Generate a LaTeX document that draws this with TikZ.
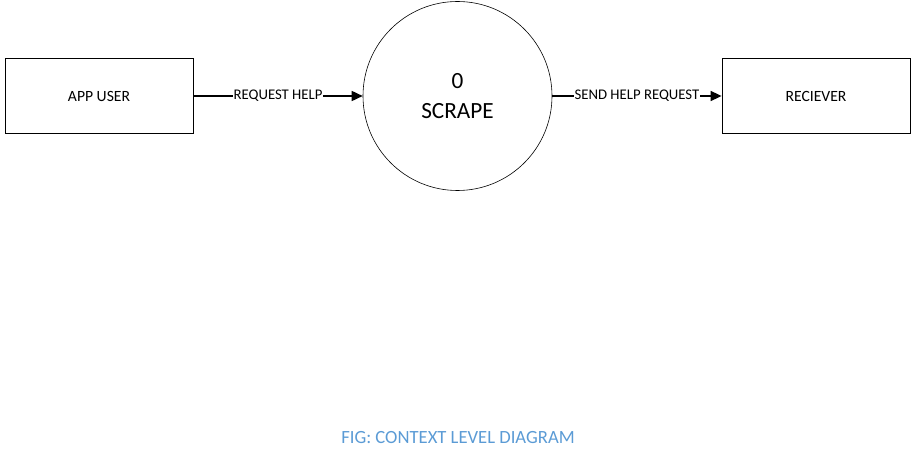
\documentclass[tikz,border=0pt]{standalone}
\usepackage{fontspec}
\setmainfont{Carlito}
\usetikzlibrary{arrows.meta}
\definecolor{capblue}{HTML}{5B9BD5}
\tikzset{
  entity/.style={draw, line width=0.8bp, minimum width=188bp, minimum height=75bp, inner sep=0pt, font=\fontsize{15.7}{18}\selectfont},
  process/.style={draw, circle, line width=0.6bp, minimum size=189bp, inner sep=0pt, align=center, font=\fontsize{23.3}{30}\selectfont},
  flow/.style={line width=1.6bp, -{Triangle[length=11bp,width=10bp]}},
  flowlabel/.style={fill=white, inner sep=0.5bp, font=\fontsize{14.8}{17}\selectfont},
  caption/.style={text=capblue, font=\fontsize{18.7}{21}\selectfont}
}
\begin{document}
\begin{tikzpicture}[x=1bp,y=-1bp]
\useasboundingbox (0,0) rectangle (916,460);
\node[entity] (user) at (99,96) {APP USER};
\node[process] (scrape) at (457.5,96) {0\\SCRAPE};
\node[entity] (recv) at (816,96) {RECIEVER};
\draw[flow] (user) -- node[flowlabel] {REQUEST HELP} (scrape);
\draw[flow] (scrape) -- node[flowlabel] {SEND HELP REQUEST} (recv);
\node[caption] (cap) at (458,438) {FIG: CONTEXT LEVEL DIAGRAM};
\end{tikzpicture}
\end{document}
